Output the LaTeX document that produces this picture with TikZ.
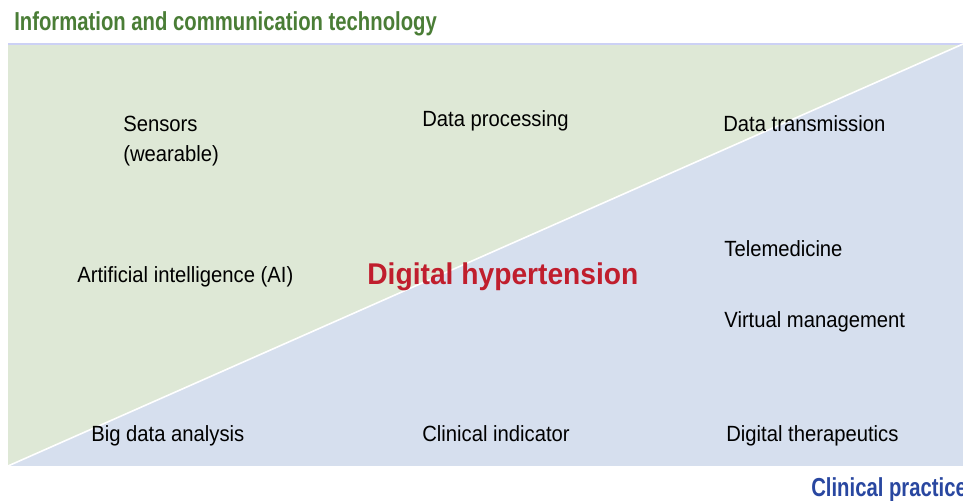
\documentclass[tikz,border=0pt]{standalone}
\usepackage{fontspec}
\setmainfont{Liberation Sans}
\usepackage{tikz}
\usetikzlibrary{positioning}
\definecolor{ictgreen}{HTML}{4A7D36}
\definecolor{cpblue}{HTML}{2947A0}
\definecolor{dhred}{HTML}{C01E2D}
\definecolor{ictfill}{HTML}{DEE8D6}
\definecolor{cpfill}{HTML}{D6DFEE}

\begin{document}
\begin{tikzpicture}[x=0.5pt,y=-0.5pt,every node/.style={inner sep=0pt,anchor=base west}]
\tikzstyle{item}=[font=\fontsize{11}{15}\selectfont,xscale=0.92,align=left]
\tikzstyle{axis}=[font=\fontsize{13}{15}\selectfont\bfseries,xscale=0.78]
\useasboundingbox (0,0) rectangle (963,501);
% panel split along the diagonal
\coordinate (bl) at (8,466);
\coordinate (tr) at (963,44);
\fill[ictfill] (bl) |- (tr) -- cycle;
\fill[cpfill] (bl) -| (tr) -- cycle;
\draw[cpfill!85!blue!70!white,line width=0.6pt] (bl|-tr) -- (tr);
\draw[white,line width=0.8pt] (bl) -- (tr);
% axis titles
\node[axis,text=ictgreen] (ict) at (14,31) {Information and communication technology};
\node[axis,text=cpblue] (cp) at (811,497) {Clinical practice};
% items
\node[item] (sensors) at (123,162) {Sensors\\(wearable)};
\node[item] (proc) at (422,127) {Data processing};
\node[item] (trans) at (723,132) {Data transmission};
\node[item] (ai) at (77,283) {Artificial intelligence (AI)};
\node[item] (tele) at (724,257) {Telemedicine};
\node[item] (virt) at (724,328) {Virtual management};
\node[item] (bigdata) at (91,442) {Big data analysis};
\node[item] (indic) at (422,442) {Clinical indicator};
\node[item] (dtx) at (726,442) {Digital therapeutics};
% centre label
\node[font=\fontsize{15}{18}\selectfont\bfseries,xscale=0.94,text=dhred] (dh) at (367,285) {Digital hypertension};
\end{tikzpicture}
\end{document}
